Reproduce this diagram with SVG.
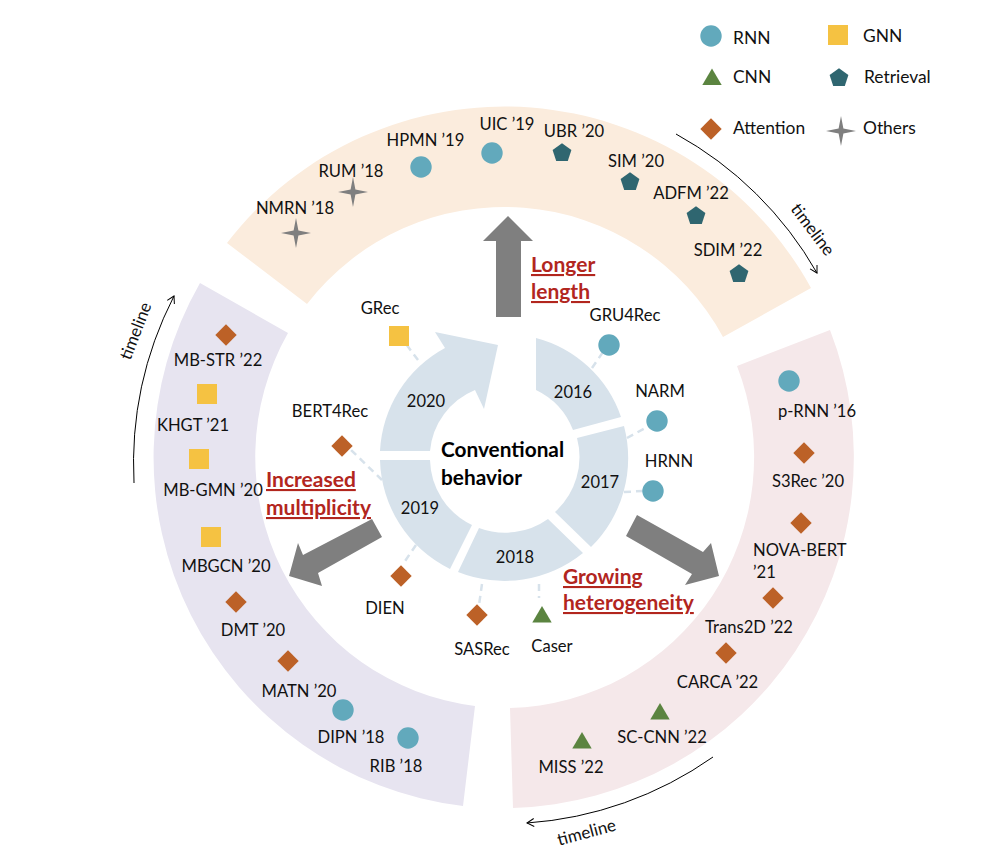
<svg xmlns="http://www.w3.org/2000/svg" xmlns:xlink="http://www.w3.org/1999/xlink" width="993" height="867" viewBox="0 0 993 867">
<style>
text{font-family:"Lato","Open Sans","Liberation Sans",sans-serif;font-size:16.6px;fill:#111}
.m{text-anchor:middle}
.c{font-size:20.8px;font-weight:700;fill:#000}
.r{font-size:21px;font-weight:700;fill:#B2261E;text-decoration:underline}
.y{font-size:16.5px}
.l{font-size:17.4px}
.t{font-size:17px}
.seg{fill:#D7E2EB}
.big{fill:#7F7F7F}
.dash{fill:none;stroke:#D7E2EB;stroke-width:2.5;stroke-dasharray:7 5}
.tl{fill:none;stroke:#000;stroke-width:1;marker-end:url(#open)}
.rnn{fill:#62A9BC}.gnn{fill:#F5C242}.cnn{fill:#5B8440}.ret{fill:#2F6670}.att{fill:#BC6127}.oth{fill:#7F7F7F}
</style>
<defs>
<marker id="open" markerUnits="userSpaceOnUse" markerWidth="12" markerHeight="12" refX="8" refY="5" orient="auto"><path d="M1,1 L8,5 L1,9" fill="none" stroke="#000" stroke-width="1"/></marker>
<circle id="s-rnn" class="rnn" r="10.7"/>
<rect id="s-gnn" class="gnn" x="-10" y="-10" width="20" height="20"/>
<path id="s-cnn" class="cnn" d="M0,-8.5 L9.7,8 L-9.7,8Z"/>
<path id="s-ret" class="ret" d="M0,-9.8 L9.4,-3 L5.8,8 L-5.8,8 L-9.4,-3Z"/>
<path id="s-att" class="att" d="M0,-10.7 L10.7,0 L0,10.7 L-10.7,0Z"/>
<path id="s-oth" class="oth" d="M0,-15 L2.4,-2.4 L15,0 L2.4,2.4 L0,15 L-2.4,2.4 L-15,0 L-2.4,-2.4Z"/>
</defs>
<rect width="993" height="867" fill="#fff"/>

<g id="bands">
<path id="band-length" fill="#FBECDD" d="M227,243 A350,350 0 0 1 811,288 L723,337 A249,249 0 0 0 307,304Z"/>
<path id="band-heterogeneity" fill="#F5E8EA" d="M737,366 L830,330 A351,351 0 0 1 513,808 L510,708 A251,251 0 0 0 737,366Z"/>
<path id="band-multiplicity" fill="#E7E4F0" d="M200,283 A351,351 0 0 0 463,806 L475,706 A251,251 0 0 1 288,333Z"/>
</g>

<g id="connectors">
<path class="dash" d="M592,368 L603,352"/>
<path class="dash" d="M627,438 L649,426"/>
<path class="dash" d="M624,492 L643,491"/>
<path class="dash" d="M539,584 L539,598"/>
<path class="dash" d="M482,584 L479,605"/>
<path class="dash" d="M416,545 L403,564"/>
<path class="dash" d="M382,480 L350,449"/>
<path class="dash" d="M418,360 L406,344"/>
<path class="big" d="M496,317 L496,241 L483,241 L508,216 L533,241 L521,241 L521,317Z"/>
<path class="big" d="M372,519 L382,537 L318,573 L322,586 L289,576 L298,543 L303,555Z"/>
<path class="big" d="M637,515 L626,536 L692,574 L685,585 L719,576 L711,543 L703,552Z"/>
<path class="tl" d="M676,134 A365,365 0 0 1 817,273"/>
<path class="tl" d="M134,483 A370,370 0 0 1 174,296"/>
<path class="tl" d="M713,757 A367,367 0 0 1 527,823"/>
</g>

<g id="year-2016"><path class="seg" d="M536,338 A123,123 0 0 1 621,417 L573,430 A74,74 0 0 0 536,390Z"/><text class="y m" x="573" y="398">2016</text></g>
<g id="year-2017"><path class="seg" d="M624,426 A125,125 0 0 1 591,547 L555,512 A74,74 0 0 0 577,438Z"/><text class="y m" x="600" y="488">2017</text></g>
<g id="year-2018"><path class="seg" d="M583,553 A125,125 0 0 1 458,572 L479,528 A74,74 0 0 0 548,519Z"/><text class="y m" x="515" y="563">2018</text></g>
<g id="year-2019"><path class="seg" d="M450,569 A125,125 0 0 1 380,460 L430,460 A74,74 0 0 0 472,525Z"/><text class="y m" x="420" y="514">2019</text></g>
<g id="year-2020"><path class="seg" d="M380,451 A124,124 0 0 1 445,348 L435,332 L498,345 L484,409 L475,390 A73,73 0 0 0 430,451Z"/><text class="y m" x="426" y="407">2020</text></g>

<g id="center-label"><text class="c" x="441" y="457">Conventional</text><text class="c" x="441" y="485">behavior</text></g>
<g id="label-length"><text class="r" x="531" y="272">Longer</text><text class="r" x="531" y="299">length</text></g>
<g id="label-multiplicity"><text class="r" x="266" y="487">Increased</text><text class="r" x="266" y="515">multiplicity</text></g>
<g id="label-heterogeneity"><text class="r" x="563" y="584">Growing</text><text class="r" x="563" y="610">heterogeneity</text></g>

<g id="timeline-labels">
<text class="m t" transform="translate(808,233) rotate(53)">timeline</text>
<text class="m t" transform="translate(141,333) rotate(-69)">timeline</text>
<text class="m t" transform="translate(588,838) rotate(-15)">timeline</text>
</g>

<g id="legend">
<g id="legend-rnn"><use xlink:href="#s-rnn" href="#s-rnn" x="711" y="36"/><text class="l" x="733" y="44">RNN</text></g>
<g id="legend-gnn"><use xlink:href="#s-gnn" href="#s-gnn" x="838" y="35"/><text class="l" x="863" y="42">GNN</text></g>
<g id="legend-cnn"><use xlink:href="#s-cnn" href="#s-cnn" x="712" y="77"/><text class="l" x="733" y="83">CNN</text></g>
<g id="legend-ret"><use xlink:href="#s-ret" href="#s-ret" x="839" y="78"/><text class="l" x="864" y="83">Retrieval</text></g>
<g id="legend-att"><use xlink:href="#s-att" href="#s-att" x="711" y="129"/><text class="l" x="733" y="134">Attention</text></g>
<g id="legend-oth"><use xlink:href="#s-oth" href="#s-oth" x="841" y="131"/><text class="l" x="863" y="134">Others</text></g>
</g>

<g id="n-nmrn"><use href="#s-oth" x="296" y="233"/><text class="m" x="295" y="214">NMRN ’18</text></g>
<g id="n-rum"><use href="#s-oth" x="353" y="192"/><text class="m" x="351" y="177">RUM ’18</text></g>
<g id="n-hpmn"><use href="#s-rnn" x="421" y="167"/><text class="m" x="425.5" y="146">HPMN ’19</text></g>
<g id="n-uic"><use href="#s-rnn" x="492" y="153"/><text class="m" x="507" y="130">UIC ’19</text></g>
<g id="n-ubr"><use href="#s-ret" x="562" y="153"/><text class="m" x="574" y="137">UBR ’20</text></g>
<g id="n-sim"><use href="#s-ret" x="630" y="182"/><text class="m" x="636" y="167">SIM ’20</text></g>
<g id="n-adfm"><use href="#s-ret" x="696" y="216"/><text class="m" x="691" y="199">ADFM ’22</text></g>
<g id="n-sdim"><use href="#s-ret" x="739" y="274"/><text class="m" x="728" y="256">SDIM ’22</text></g>

<g id="n-prnn"><use href="#s-rnn" x="789" y="381"/><text class="m" x="817" y="417">p-RNN ’16</text></g>
<g id="n-s3rec"><use href="#s-att" x="804" y="453"/><text class="m" x="808" y="487">S3Rec ’20</text></g>
<g id="n-nova"><use href="#s-att" x="801" y="523"/><text x="753" y="556">NOVA-BERT</text><text x="753" y="578">’21</text></g>
<g id="n-trans2d"><use href="#s-att" x="773" y="598"/><text class="m" x="749" y="633">Trans2D ’22</text></g>
<g id="n-carca"><use href="#s-att" x="726" y="653"/><text class="m" x="717.5" y="688">CARCA ’22</text></g>
<g id="n-sccnn"><use href="#s-cnn" x="660" y="711.5"/><text class="m" x="662" y="743">SC-CNN ’22</text></g>
<g id="n-miss"><use href="#s-cnn" x="582" y="740.5"/><text class="m" x="571" y="773">MISS ’22</text></g>

<g id="n-rib"><use href="#s-rnn" x="408" y="738"/><text class="m" x="396" y="772">RIB ’18</text></g>
<g id="n-dipn"><use href="#s-rnn" x="343" y="710"/><text class="m" x="351" y="743">DIPN ’18</text></g>
<g id="n-matn"><use href="#s-att" x="288" y="661"/><text class="m" x="299" y="697">MATN ’20</text></g>
<g id="n-dmt"><use href="#s-att" x="236" y="602"/><text class="m" x="253" y="636">DMT ’20</text></g>
<g id="n-mbgcn"><use href="#s-gnn" x="211" y="537"/><text class="m" x="226" y="572">MBGCN ’20</text></g>
<g id="n-mbgmn"><use href="#s-gnn" x="199" y="459"/><text class="m" x="213" y="496">MB-GMN ’20</text></g>
<g id="n-khgt"><use href="#s-gnn" x="207" y="394"/><text class="m" x="193" y="431">KHGT ’21</text></g>
<g id="n-mbstr"><use href="#s-att" x="226" y="335"/><text class="m" x="218" y="366">MB-STR ’22</text></g>

<g id="n-gru4rec"><use href="#s-rnn" x="609" y="345"/><text class="m" x="625" y="321">GRU4Rec</text></g>
<g id="n-narm"><use href="#s-rnn" x="657" y="421"/><text class="m" x="660" y="397">NARM</text></g>
<g id="n-hrnn"><use href="#s-rnn" x="653" y="491"/><text class="m" x="669" y="467">HRNN</text></g>
<g id="n-caser"><use href="#s-cnn" x="542" y="614.5"/><text class="m" x="552" y="652">Caser</text></g>
<g id="n-sasrec"><use href="#s-att" x="477" y="615"/><text class="m" x="482" y="655">SASRec</text></g>
<g id="n-dien"><use href="#s-att" x="401" y="576"/><text class="m" x="385" y="614">DIEN</text></g>
<g id="n-bert4rec"><use href="#s-att" x="342" y="446"/><text class="m" x="330" y="417">BERT4Rec</text></g>
<g id="n-grec"><use href="#s-gnn" x="399" y="336"/><text class="m" x="380" y="314">GRec</text></g>
</svg>
